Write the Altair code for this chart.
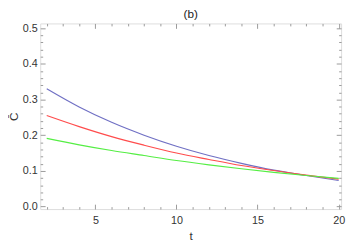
import altair as alt
import pandas as pd

t_vals = [2, 4, 6, 8, 10, 12, 14, 16, 18, 20]
blue_vals = [0.330, 0.279, 0.236, 0.200, 0.169, 0.143, 0.121, 0.102, 0.087, 0.073]
red_vals = [0.255, 0.224, 0.196, 0.172, 0.150, 0.132, 0.115, 0.101, 0.088, 0.077]
green_vals = [0.191, 0.173, 0.157, 0.143, 0.129, 0.117, 0.106, 0.096, 0.087, 0.079]
series_names = ["blue", "red", "green"]
series_colors = ["#7070c4", "#ff4c4c", "#55ee44"]

x_major = [5, 10, 15, 20]
x_minor = [2, 3, 4, 6, 7, 8, 9, 11, 12, 13, 14, 16, 17, 18, 19]
y_major = [0.0, 0.1, 0.2, 0.3, 0.4, 0.5]
y_minor = [round(0.02 * i, 2) for i in range(1, 25) if i % 5 != 0]

rows = []
for name, vals in zip(series_names, [blue_vals, red_vals, green_vals]):
    for t, v in zip(t_vals, vals):
        rows.append({"t": t, "c": v, "s": name})
df = pd.DataFrame(rows)

FONT = "Liberation Sans"
GRAY = "#9a9a9a"
xs = alt.Scale(domain=[1.6, 20.15], nice=False, zero=False)
ys = alt.Scale(domain=[-0.007, 0.513], nice=False, zero=False)


def ax(orient, values, size):
    return alt.Axis(orient=orient, values=values, tickSize=size, offset=-size,
                    domain=False, grid=False, labels=False, tickColor=GRAY,
                    tickWidth=1, title=None)


base = alt.Chart(df)

main = base.mark_line(strokeWidth=1.2, interpolate="monotone").encode(
    x=alt.X("t:Q", scale=xs,
            axis=alt.Axis(orient="bottom", values=x_major, tickSize=5, offset=-5,
                          domain=False, grid=False, tickColor=GRAY,
                          labelFont=FONT, labelFontSize=11, labelColor="#333333",
                          labelPadding=6, title="t", titleFont=FONT,
                          titleFontSize=12, titleColor="#333333",
                          titleFontWeight="normal", titlePadding=5)),
    y=alt.Y("c:Q", scale=ys,
            axis=alt.Axis(orient="left", values=y_major, tickSize=5, offset=-5,
                          domain=False, grid=False, tickColor=GRAY, format=".1f",
                          labelFont=FONT, labelFontSize=11, labelColor="#333333",
                          labelPadding=3, title="C\u0304", titleFont=FONT,
                          titleFontSize=12, titleColor="#333333",
                          titleFontWeight="normal", titlePadding=2)),
    color=alt.Color("s:N", scale=alt.Scale(domain=series_names, range=series_colors),
                    legend=None),
    detail="s:N",
)

l2 = base.mark_line(opacity=0).encode(
    x=alt.X("t:Q", scale=xs, axis=ax("bottom", x_minor, 2.5)),
    y=alt.Y("c:Q", scale=ys, axis=ax("left", y_minor, 2.5)),
    detail="s:N",
)
l3 = base.mark_line(opacity=0).encode(
    x=alt.X("t:Q", scale=xs, axis=ax("top", x_major, 5)),
    y=alt.Y("c:Q", scale=ys, axis=ax("right", y_major, 5)),
    detail="s:N",
)
l4 = base.mark_line(opacity=0).encode(
    x=alt.X("t:Q", scale=xs, axis=ax("top", x_minor, 2.5)),
    y=alt.Y("c:Q", scale=ys, axis=ax("right", y_minor, 2.5)),
    detail="s:N",
)

chart = alt.layer(main, l2, l3, l4).resolve_axis(
    x="independent", y="independent"
).properties(
    width=308,
    height=190,
    autosize=alt.AutoSizeParams(type="none"),
    padding={"left": 33, "top": 13, "right": 5, "bottom": 36},
    title=alt.TitleParams("(b)", font=FONT, fontSize=12, fontWeight="normal",
                          color="#222222", offset=1),
).configure_view(stroke=GRAY, strokeWidth=1).configure(background="white")

chart.save("out.html", embed_options={"renderer": "svg", "actions": False})
